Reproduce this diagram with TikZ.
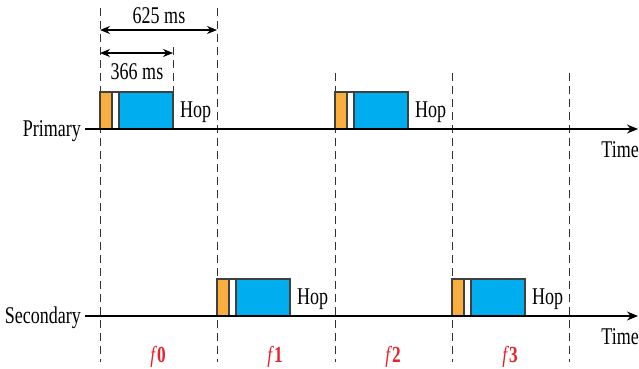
\documentclass[tikz,border=0pt]{standalone}
\usepackage{fontspec}
\setmainfont{Liberation Serif}[FakeStretch=0.75]
\usetikzlibrary{arrows.meta}
\definecolor{slotorange}{HTML}{F9AE3D}
\definecolor{slotblue}{HTML}{00ADEF}
\definecolor{freqred}{HTML}{E8202A}
\tikzset{
  lbl/.style={inner sep=0pt, font=\fontsize{24}{26}\selectfont},
  flbl/.style={inner sep=0pt, text=freqred, font=\fontsize{23}{25}\selectfont},
  axis/.style={line width=1.3pt, -{Stealth[length=11pt,width=9pt]}},
  dim/.style={line width=1.2pt, {Stealth[length=10pt,width=8pt]}-{Stealth[length=10pt,width=8pt]}},
  guide/.style={line width=0.9pt, black!80, dash pattern=on 8pt off 5pt},
  slot/.style={draw=black!75, line width=1.1pt},
}
\begin{document}
\begin{tikzpicture}[x=1pt,y=-1pt]
\useasboundingbox (0,0) rectangle (639,368);
% guide coordinates
\coordinate (g0t) at (100,8);   \coordinate (g0b) at (100,362);
\coordinate (g1t) at (217,8);   \coordinate (g1b) at (217,362);
\coordinate (g2t) at (335,73);  \coordinate (g2b) at (335,362);
\coordinate (g3t) at (452,73);  \coordinate (g3b) at (452,362);
\coordinate (g4t) at (569,73);  \coordinate (g4b) at (569,362);
\coordinate (g5t) at (173,47);  \coordinate (g5b) at (173,92);
\foreach \i in {0,...,5} \draw[guide] (g\i t) -- (g\i b);
% boxes
\foreach \n/\x/\y in {pa/100/92, pb/335/92, sa/217/279, sb/452/279}{
  \fill[slotorange] (\x,\y) rectangle ++(12,37);
  \fill[white] (\x+12,\y) rectangle ++(7,37);
  \fill[slotblue] (\x+19,\y) rectangle ++(54,37);
  \draw[slot] (\x,\y) rectangle ++(73,37);
  \draw[slot] (\x+12,\y) -- ++(0,37);
  \draw[slot] (\x+19,\y) -- ++(0,37);
  \node[lbl, anchor=base west] (hop\n) at (\x+80,\y+25) {Hop};
}
% axes
\coordinate (ps) at (85,129); \coordinate (pe) at (638,129);
\coordinate (ss) at (85,316); \coordinate (se) at (638,316);
\draw[axis] (ps) -- (pe);
\draw[axis] (ss) -- (se);
\node[lbl, anchor=base east] (prim) at (81,136) {Primary};
\node[lbl, anchor=base east] (sec) at (81,323) {Secondary};
\node[lbl, anchor=base east] (t1) at (639,157) {Time};
\node[lbl, anchor=base east] (t2) at (639,344) {Time};
% dimensions
\coordinate (d1a) at (100,30); \coordinate (d1b) at (217,30);
\coordinate (d2a) at (100,53); \coordinate (d2b) at (173,53);
\draw[dim] (d1a) -- (d1b);
\draw[dim] (d2a) -- (d2b);
\node[lbl, anchor=base] (l625) at (159,23) {625 ms};
\node[lbl, anchor=base] (l366) at (137,79) {366 ms};
% frequencies
\node[flbl, anchor=base] (f0) at (158,362) {\textit{f}\textbf{0}};
\node[flbl, anchor=base] (f1) at (275,362) {\textit{f}\textbf{1}};
\node[flbl, anchor=base] (f2) at (393,362) {\textit{f}\textbf{2}};
\node[flbl, anchor=base] (f3) at (510,362) {\textit{f}\textbf{3}};
\end{tikzpicture}
\end{document}
